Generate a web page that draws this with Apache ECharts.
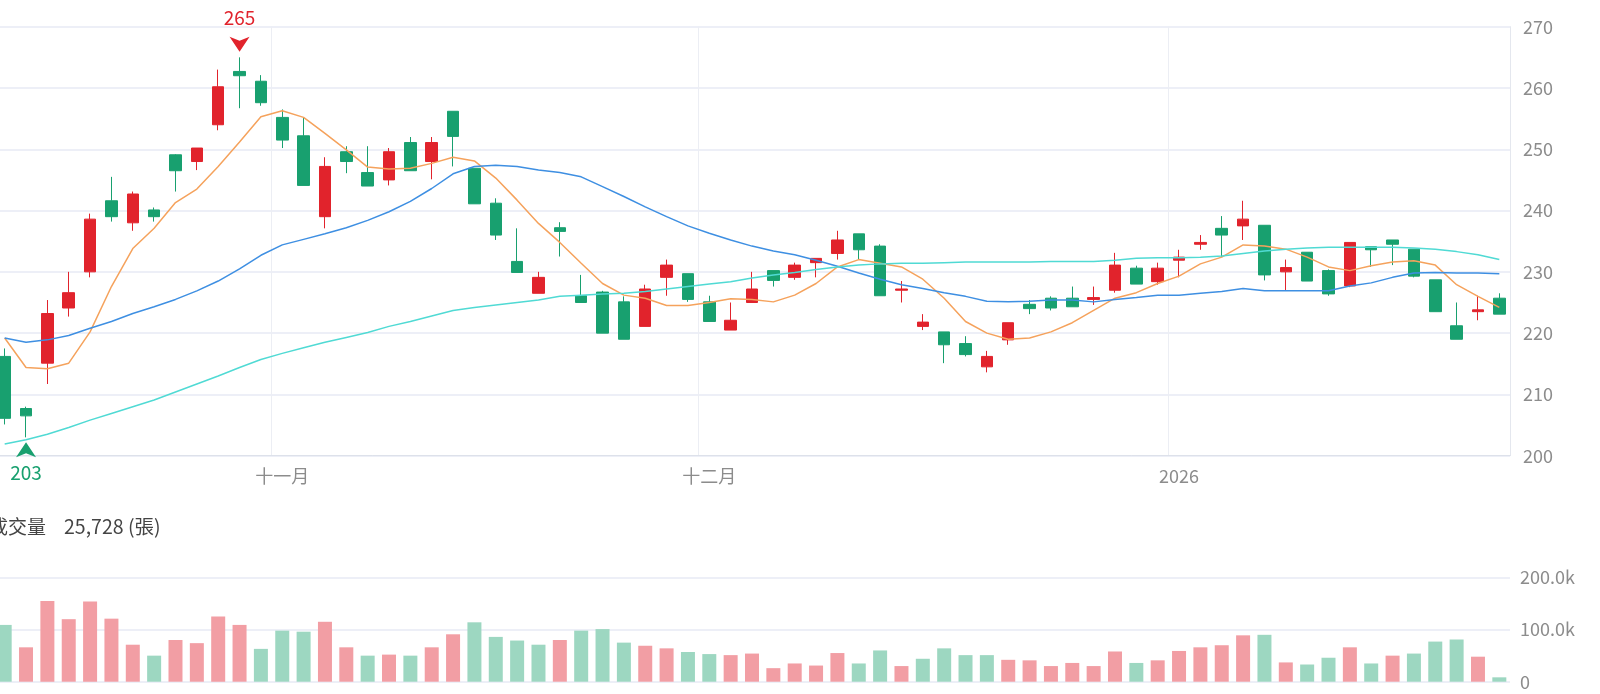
<!DOCTYPE html>
<html><head><meta charset="utf-8">
<script src="https://cdn.jsdelivr.net/npm/echarts@6/dist/echarts.min.js"></script>
<style>html,body{margin:0;padding:0;background:#fff;overflow:hidden;width:1600px;height:694px;position:relative}#c{position:absolute;left:-6px;top:0;width:1606px;height:694px}</style>
</head><body><div id="c"></div>
<script>
const dates = [
 '2025-10-14','2025-10-15','2025-10-16','2025-10-17','2025-10-20','2025-10-21','2025-10-22','2025-10-23','2025-10-27','2025-10-28','2025-10-29','2025-10-30','2025-10-31',
 '2025-11-03','2025-11-04','2025-11-05','2025-11-06','2025-11-07','2025-11-10','2025-11-11','2025-11-12','2025-11-13','2025-11-14','2025-11-17','2025-11-18','2025-11-19','2025-11-20','2025-11-21','2025-11-24','2025-11-25','2025-11-26','2025-11-27','2025-11-28',
 '2025-12-01','2025-12-02','2025-12-03','2025-12-04','2025-12-05','2025-12-08','2025-12-09','2025-12-10','2025-12-11','2025-12-12','2025-12-15','2025-12-16','2025-12-17','2025-12-18','2025-12-19','2025-12-22','2025-12-23','2025-12-24','2025-12-26','2025-12-29','2025-12-30','2025-12-31',
 '2026-01-02','2026-01-05','2026-01-06','2026-01-07','2026-01-08','2026-01-09','2026-01-12','2026-01-13','2026-01-14','2026-01-15','2026-01-16','2026-01-19','2026-01-20','2026-01-21','2026-01-22','2026-01-23'
];
const opens = [216.2,207.7,215.1,224.1,230.0,241.6,238.0,240.1,249.1,248.0,254.0,262.7,261.1,
 255.2,252.2,239.0,249.6,246.2,245.0,251.1,248.0,256.2,246.9,241.2,231.7,226.5,237.2,226.1,226.7,225.1,221.1,229.1,229.7,
 225.1,220.5,225.0,230.2,229.1,231.5,233.0,236.2,234.2,227.0,221.1,220.2,218.3,214.5,218.9,224.7,225.7,225.7,225.5,227.0,230.6,228.4,
 231.9,234.5,237.1,237.5,237.6,230.0,233.2,230.2,227.7,234.1,235.2,233.7,228.7,221.2,223.5,225.7];
const closes = [206.1,206.5,223.2,226.6,238.6,239.0,242.7,239.0,246.5,250.2,260.2,262.0,257.6,
 251.5,244.1,247.2,248.0,244.0,249.6,246.5,251.1,252.1,241.1,236.0,229.9,229.1,236.6,225.0,220.0,219.0,227.2,231.1,225.5,
 221.9,222.1,227.2,228.6,231.1,232.2,235.2,233.6,226.1,227.2,221.8,218.1,216.5,216.2,221.7,224.0,224.1,224.3,225.8,231.1,228.0,230.6,
 232.4,234.8,236.0,238.6,229.5,230.7,228.5,226.4,234.8,233.6,234.5,229.3,223.5,219.0,223.8,223.1];
const lows = [205.1,203.0,211.7,222.7,229.1,238.2,236.7,238.2,243.1,246.6,253.1,256.7,257.1,
 250.2,244.1,237.1,246.1,244.0,244.1,246.5,245.1,247.2,241.1,235.2,229.9,226.5,232.5,225.0,220.0,219.0,221.1,226.1,225.1,
 221.9,220.5,225.0,227.6,228.7,229.1,232.0,232.0,226.1,225.0,220.5,215.1,216.2,213.6,218.1,223.1,223.7,224.3,224.6,226.6,228.0,227.9,
 229.1,233.6,232.4,235.2,228.6,227.0,228.5,226.1,227.5,230.8,231.1,229.1,223.5,219.0,222.1,223.1];
const highs = [217.5,208.0,225.4,230.0,239.5,245.5,243.1,240.5,249.2,250.2,263.0,265.0,262.1,
 256.5,255.2,248.7,250.5,250.5,250.2,252.0,252.0,256.2,246.9,242.0,237.1,230.0,238.1,229.5,226.9,226.0,227.9,232.0,229.7,
 226.1,225.0,230.0,230.2,231.5,232.2,236.7,236.2,234.5,228.5,223.1,220.2,219.5,217.1,221.7,225.4,226.0,227.6,227.6,233.1,231.0,231.5,
 233.6,236.0,239.1,241.6,237.6,232.0,233.2,230.4,234.8,234.1,235.2,233.7,228.7,225.0,226.1,226.5];
const volumes = [109000,66000,155000,120000,154000,121000,71000,50000,80000,74000,125000,109000,63000,
 98000,96000,115000,66000,50000,52000,50000,66000,91000,114000,86000,79000,71000,80000,98000,101000,75000,69000,64000,57000,
 53000,51000,54000,26000,35000,31000,55000,35000,60000,30000,44000,64000,51000,51000,42000,41000,30000,36000,30000,58000,36000,41000,
 59000,66000,70000,89000,90000,37000,33000,46000,66000,35000,50000,54000,77000,81000,48000,8400];
const ma5 = [219.2,214.4,214.2,215.1,220.2,227.6,233.8,237.1,241.3,243.5,247.2,251.2,255.3,
 256.3,255.2,252.6,249.9,247.1,246.8,246.9,247.7,248.7,248.1,245.3,241.7,237.9,234.8,231.4,228.1,226.2,225.7,224.5,224.5,
 225.0,225.6,225.5,225.1,226.2,228.1,230.8,232.0,231.4,230.8,228.8,225.7,221.9,220.0,219.0,219.2,220.2,221.7,223.7,225.7,226.6,228.1,
 229.3,231.3,232.4,234.4,234.2,233.7,232.4,230.8,230.2,231.0,231.6,231.8,231.1,227.9,226.0,224.2];
const ma20 = [219.2,218.5,218.9,219.6,220.8,221.9,223.2,224.3,225.5,226.9,228.5,230.5,232.7,
 234.4,235.3,236.2,237.2,238.4,239.8,241.5,243.6,246.0,247.2,247.4,247.2,246.6,246.2,245.5,243.9,242.3,240.6,239.0,237.5,
 236.3,235.2,234.2,233.4,232.8,231.9,230.9,229.8,228.8,227.9,227.3,226.6,226.0,225.2,225.1,225.2,225.4,225.4,225.1,225.5,225.8,226.2,
 226.2,226.5,226.8,227.3,226.9,226.9,226.9,226.9,227.7,228.2,229.1,229.8,229.9,229.8,229.8,229.7];
const ma60 = [201.9,202.6,203.5,204.6,205.8,206.9,208.0,209.1,210.4,211.7,213.0,214.4,215.7,
 216.7,217.6,218.5,219.3,220.1,221.1,221.9,222.8,223.7,224.2,224.6,225.0,225.4,226.0,226.2,226.4,226.5,226.8,227.2,227.6,
 228.0,228.4,229.0,229.5,229.9,230.4,230.8,231.1,231.3,231.4,231.4,231.5,231.6,231.6,231.6,231.6,231.7,231.7,231.7,231.9,232.2,232.3,
 232.3,232.4,232.6,233.0,233.4,233.7,233.9,234.0,234.0,234.0,234.0,233.9,233.7,233.3,232.8,232.0];
const closeBeforeFirst = 216.5;
const monthNames = ['一月','二月','三月','四月','五月','六月','七月','八月','九月','十月','十一月','十二月'];
const priceAxis = {min: 200, max: 270, step: 10};
const volumeAxis = {min: 0, max: 200000, step: 100000};
const volumeTitle = '成交量';
const volumeText = '25,728 (張)';

const RED = '#e1232c', GREEN = '#18a06f';
const VRED = '#f29ea4', VGREEN = '#9dd7c1';
const FONT = '"Noto Sans CJK TC", "Noto Sans", sans-serif';
const monthOf = d => +d.slice(5, 7);
const isMonthStart = i => i > 0 && monthOf(dates[i]) !== monthOf(dates[i - 1]);
const ohlc = dates.map((d, i) => [opens[i], closes[i], lows[i], highs[i]]);
const volData = volumes.map((v, i) => {
  const prev = i === 0 ? closeBeforeFirst : closes[i - 1];
  return {value: v, itemStyle: {color: closes[i] >= prev ? VRED : VGREEN}};
});
const chart = echarts.init(document.getElementById('c'), null, {renderer: 'canvas'});
chart.setOption({
  animation: false,
  backgroundColor: '#fff',
  textStyle: {fontFamily: FONT},
  grid: [
    {left: 0, right: 90, top: 26.7, height: 429},
    {left: 0, right: 90, top: 577.5, height: 104.2}
  ],
  xAxis: [
    {type: 'category', data: dates, gridIndex: 0, boundaryGap: true,
     axisLine: {show: true, lineStyle: {color: '#dde1ea', width: 1}},
     axisTick: {show: false},
     axisLabel: {interval: (i) => isMonthStart(i), color: '#8c8c8c', fontSize: 18, margin: 11,
       formatter: (v) => { const m = monthOf(v); return m === 1 ? v.slice(0, 4) : monthNames[m - 1]; }},
     splitLine: {show: true, interval: (i) => isMonthStart(i), lineStyle: {color: '#eceef4', width: 1}}},
    {type: 'category', data: dates, gridIndex: 1, boundaryGap: true,
     axisLine: {show: false}, axisTick: {show: false}, axisLabel: {show: false}, splitLine: {show: false}}
  ],
  yAxis: [
    {type: 'value', gridIndex: 0, position: 'right', min: priceAxis.min, max: priceAxis.max, interval: priceAxis.step,
     axisLine: {show: true, lineStyle: {color: '#e4e7ee'}}, axisTick: {show: false},
     axisLabel: {color: '#8c8c8c', fontSize: 18, margin: 13},
     splitLine: {lineStyle: {color: '#e7eaf4', width: 1.5}}},
    {type: 'value', gridIndex: 1, position: 'right', min: volumeAxis.min, max: volumeAxis.max, interval: volumeAxis.step,
     axisLine: {show: false}, axisTick: {show: false},
     axisLabel: {color: '#8c8c8c', fontSize: 18, margin: 10,
       formatter: (v) => v === 0 ? '0' : (v / 1000).toFixed(1) + 'k'},
     splitLine: {lineStyle: {color: '#e7eaf4', width: 1.5}}}
  ],
  graphic: [
    {type: 'text', left: -5, top: 517, style: {text: volumeTitle, fill: '#444', font: '19px ' + FONT}},
    {type: 'text', left: 70, top: 517, style: {text: volumeText, fill: '#444', font: '19.5px ' + FONT}}
  ],
  series: [
    {type: 'candlestick', xAxisIndex: 0, yAxisIndex: 0, data: ohlc, barWidth: 12,
     itemStyle: {color: RED, color0: GREEN, borderColor: RED, borderColor0: GREEN, borderWidth: 1},
     markPoint: {
       symbolKeepAspect: false,
       data: [
         {type: 'max', valueDim: 'highest', symbol: 'path://M0,0 L10,4 L20,0 L10,15 Z', symbolSize: [20, 15], symbolOffset: [0, -13],
          itemStyle: {color: RED},
          label: {show: true, position: 'top', distance: 10, color: RED, fontSize: 19, formatter: (p) => Math.round(p.value)}},
         {type: 'min', valueDim: 'lowest', symbol: 'path://M10,0 L20,15 L10,11 L0,15 Z', symbolSize: [20, 15], symbolOffset: [0, 12.4],
          itemStyle: {color: GREEN},
          label: {show: true, position: 'bottom', distance: 6, color: GREEN, fontSize: 19, formatter: (p) => Math.round(p.value)}}
       ]
     }},
    {type: 'line', name: 'MA5', data: ma5, showSymbol: false, symbol: 'none', lineStyle: {color: '#f5a25c', width: 1.5}, z: 5},
    {type: 'line', name: 'MA20', data: ma20, showSymbol: false, symbol: 'none', lineStyle: {color: '#3e8fe2', width: 1.5}, z: 5},
    {type: 'line', name: 'MA60', data: ma60, showSymbol: false, symbol: 'none', lineStyle: {color: '#50dad4', width: 1.5}, z: 5},
    {type: 'bar', xAxisIndex: 1, yAxisIndex: 1, data: volData, barWidth: 14}
  ]
});
</script></body></html>
